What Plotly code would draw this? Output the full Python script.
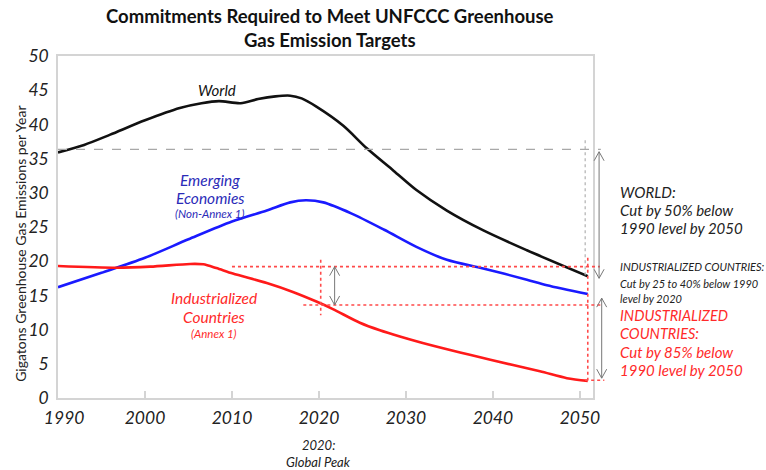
import plotly.graph_objects as go

# ---------------- data ----------------
world_years = [1990, 1993, 1996, 2000, 2004, 2006.5, 2008.5, 2011, 2013, 2015, 2016.7, 2018, 2019.7,
               2022.8, 2025.5, 2028.6, 2031.2, 2034.7, 2038.9, 2043.9, 2050.9]
world_vals = [35.9, 37.0, 38.5, 40.6, 42.4, 43.1, 43.4, 43.1, 43.7, 44.1, 44.2, 43.8, 42.6,
              39.8, 36.5, 33.2, 30.4, 27.4, 24.5, 21.6, 17.8]

emerging_years = [1990, 1995, 2000, 2005, 2010, 2014, 2016.7, 2018.5, 2020.5, 2023.7, 2027.5,
                  2031.2, 2034.7, 2039, 2043.9, 2046.2, 2050.9]
emerging_vals = [16.2, 18.3, 20.5, 23.2, 25.8, 27.4, 28.6, 28.9, 28.6, 27.0, 24.6,
                 22.1, 20.2, 18.9, 17.3, 16.5, 15.2]

indust_years = [1990, 1996.7, 2000.6, 2005.2, 2006.7, 2008.2, 2010.1, 2014, 2017, 2019.7, 2021.6,
                2024.7, 2027, 2029.3, 2032.8, 2039.7, 2045.4, 2048.5, 2050.9]
indust_vals = [19.3, 19.05, 19.2, 19.6, 19.55, 19.0, 18.2, 16.8, 15.5, 14.1, 13.0,
               11.0, 9.9, 9.0, 7.75, 5.6, 3.9, 2.9, 2.5]

x_ticks = [1990, 2000, 2010, 2020, 2030, 2040, 2050]
x_ticktext = ["\u00a0\u00a0\u00a01990", "2000", "2010", "2020", "2030", "2040", "2050"]
y_ticks = [0, 5, 10, 15, 20, 25, 30, 35, 40, 45, 50]

title_text = "Commitments Required to Meet UNFCCC Greenhouse<br>Gas Emission Targets"
y_title = "Gigatons Greenhouse Gas Emissions per Year"

# reference levels
world_1990 = 36.35
indust_1990 = 19.2
indust_2020 = 13.6
indust_2050 = 2.6

X0, X1 = 1990, 2051.5
Y0, Y1 = 0, 50
PLOT_W, PLOT_H = 535, 342


def xp(year):
    return (year - X0) / (X1 - X0)


def yp(v):
    return (v - Y0) / (Y1 - Y0)


FONT = "Lato, 'Open Sans', 'DejaVu Sans', sans-serif"
BLACK = "#111111"
BLUE_LINE = "#1a1aff"
RED_LINE = "#ff1a1a"
BLUE_TXT = "#2b2bb8"
RED_TXT = "#ff2a2a"
GRAY = "#777777"

fig = go.Figure()
fig.add_trace(go.Scatter(x=world_years, y=world_vals, mode="lines", name="World",
                         line=dict(color=BLACK, width=2.6, shape="spline", smoothing=0.8)))
fig.add_trace(go.Scatter(x=emerging_years, y=emerging_vals, mode="lines", name="Emerging Economies",
                         line=dict(color=BLUE_LINE, width=2.6, shape="spline", smoothing=0.8)))
fig.add_trace(go.Scatter(x=indust_years, y=indust_vals, mode="lines", name="Industrialized Countries",
                         line=dict(color=RED_LINE, width=2.6, shape="spline", smoothing=0.8)))

shapes = []


def pline(x0, y0, x1, y1, color, dash, width=1.2):
    shapes.append(dict(type="line", xref="paper", yref="paper", x0=x0, y0=y0, x1=x1, y1=y1,
                       line=dict(color=color, dash=dash, width=width), layer="above"))


def double_arrow(year, v_top, v_bot):
    x = xp(year)
    yt, yb = yp(v_top), yp(v_bot)
    pline(x, yt, x, yb, GRAY, "solid", 1)
    dx = 5 / PLOT_W
    dy = 9 / PLOT_H
    shapes.append(dict(type="path", xref="paper", yref="paper",
                       path=f"M {x-dx},{yt-dy} L {x},{yt} L {x+dx},{yt-dy}",
                       line=dict(color=GRAY, width=1)))
    shapes.append(dict(type="path", xref="paper", yref="paper",
                       path=f"M {x-dx},{yb+dy} L {x},{yb} L {x+dx},{yb+dy}",
                       line=dict(color=GRAY, width=1)))


# gray dashed world 1990 level
pline(xp(1990), yp(world_1990), xp(2052.4), yp(world_1990), "#a8a8a8", "dash", 1.2)
pline(xp(2050.6), yp(37.7), xp(2050.6), yp(17.5), "#b0b0b0", "dot", 1.2)
# red dotted industrial levels
RD = "#ff4a4a"
pline(xp(2010), yp(indust_1990), xp(2052.3), yp(indust_1990), RD, "dot", 1.6)
pline(xp(2018.2), yp(indust_2020), xp(2052.4), yp(indust_2020), RD, "dot", 1.6)
pline(xp(2020.2), yp(20.2), xp(2020.2), yp(12.1), RD, "dot", 1.6)
pline(xp(2050.9), yp(20.5), xp(2050.9), yp(indust_2050), RD, "dot", 1.6)
pline(xp(2050.6), yp(indust_2050), xp(2052.8), yp(indust_2050), RD, "dot", 1.6)

double_arrow(2021.8, indust_1990, indust_2020)
double_arrow(2052.2, 36.0, 17.5)
double_arrow(2052.5, 14.6, 2.9)

annotations = []


def txt(text, year, v, size, color, xanchor="center", weight="normal", italic=True, angle=0):
    annotations.append(dict(text=text, xref="paper", yref="paper", x=xp(year), y=yp(v),
                            xanchor=xanchor, yanchor="middle", showarrow=False, textangle=angle,
                            font=dict(family=FONT, size=size, color=color, weight=weight,
                                      style="italic" if italic else "normal")))


# title (centred over the plot)
txt(title_text, 2021.3, 54.05, 18.5, "#111111", weight="bold", italic=False)
# y axis title
txt(y_title, 1985.6, 22.5, 14, "#222222", italic=False, angle=-90)

txt("World", 2008.3, 45.0, 15, BLACK)
txt("Emerging", 2007.5, 31.9, 15.5, BLUE_TXT)
txt("Economies", 2007.5, 29.2, 15.5, BLUE_TXT)
txt("(Non-Annex 1)", 2007.5, 27.0, 11.5, BLUE_TXT)
txt("Industrialized", 2007.9, 14.6, 15.5, RED_TXT)
txt("Countries", 2007.9, 11.8, 15.5, RED_TXT)
txt("(Annex 1)", 2007.9, 9.5, 11.5, RED_TXT)

TX = 2054.4
txt("WORLD:", TX, 30.1, 15, "#222222", xanchor="left")
txt("Cut by 50% below", TX, 27.5, 15, "#222222", xanchor="left")
txt("1990 level by 2050", TX, 24.8, 15, "#222222", xanchor="left")
txt("INDUSTRIALIZED COUNTRIES:", TX, 19.2, 11, "#222222", xanchor="left")
txt("Cut by 25 to 40% below 1990", TX, 16.8, 11, "#222222", xanchor="left")
txt("level by 2020", TX, 14.6, 11, "#222222", xanchor="left")
txt("INDUSTRIALIZED", TX, 12.1, 14.5, RED_TXT, xanchor="left")
txt("COUNTRIES:", TX, 9.5, 14.5, RED_TXT, xanchor="left")
txt("Cut by 85% below", TX, 6.7, 15, RED_TXT, xanchor="left")
txt("1990 level by 2050", TX, 4.1, 15, RED_TXT, xanchor="left")

txt("2020:", 2020.0, -6.8, 13, "#222222")
txt("Global Peak", 2020.0, -9.3, 13, "#222222")

fig.update_layout(
    width=766, height=470,
    margin=dict(l=58, r=173, t=56, b=72),
    paper_bgcolor="white", plot_bgcolor="white",
    showlegend=False,
    xaxis=dict(range=[X0, X1], tickmode="array", tickvals=x_ticks, ticktext=x_ticktext,
               showgrid=False, zeroline=False, showline=True, linecolor="#d4d4d4", linewidth=1.5,
               mirror=True, ticks="inside", ticklen=7, tickcolor="#d4d4d4", tickwidth=1.5,
               ticklabelstandoff=3,
               tickfont=dict(family=FONT, size=17.5, color="#222222", style="italic")),
    yaxis=dict(range=[Y0, Y1], tickmode="array", tickvals=y_ticks,
               showgrid=False, zeroline=False, showline=True, linecolor="#d4d4d4", linewidth=1.5,
               mirror=True, ticks="", ticklabelstandoff=4,
               tickfont=dict(family=FONT, size=17.5, color="#222222", style="italic")),
    shapes=shapes,
    annotations=annotations,
)

fig.write_html("out.html", config={"displayModeBar": False},
               post_script="document.body.style.margin='0px';")
